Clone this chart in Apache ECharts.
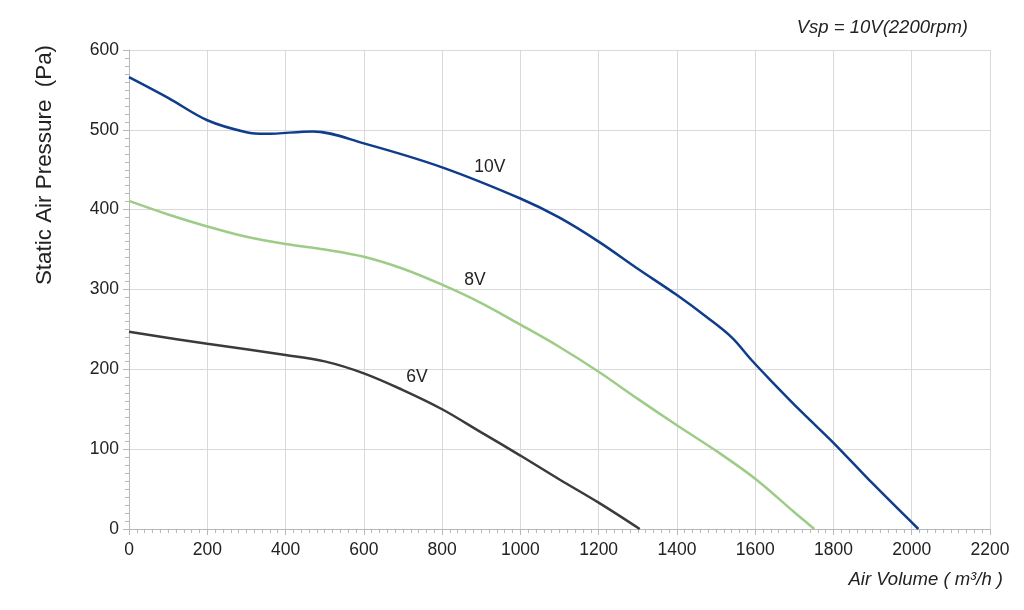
<!DOCTYPE html>
<html>
<head>
<meta charset="utf-8">
<title>Fan curve</title>
<script src="https://cdn.jsdelivr.net/npm/echarts@6/dist/echarts.min.js"></script>
<style>
  html, body { margin: 0; padding: 0; background: #fff; }
  #chart { width: 1024px; height: 610px; }
</style>
</head>
<body>
<div id="chart"></div>
<script>
// air volume (m3/h), static pressure (Pa)
const curve10V = [
  [0, 566], [100, 540], [200, 512], [300, 497], [350, 495], [470, 498],
  [600, 483], [800, 453], [1000, 414], [1100, 390], [1200, 360],
  [1300, 326], [1400, 293], [1480, 264], [1540, 240], [1590, 212],
  [1640, 186], [1720, 146], [1800, 108], [1900, 57], [2017, 0]
];
const curve8V = [
  [0, 411], [100, 394], [200, 379], [300, 366], [400, 357], [500, 350],
  [600, 341], [700, 326], [800, 306], [900, 283], [1000, 256], [1100, 228],
  [1200, 197], [1300, 163], [1400, 130], [1500, 98], [1600, 63],
  [1700, 21], [1751, 0]
];
const curve6V = [
  [0, 247], [200, 232], [400, 218], [500, 210], [600, 195], [700, 174],
  [800, 150], [900, 121], [1000, 92], [1100, 62], [1200, 33], [1305, 0]
];
const curveNames = ['10V', '8V', '6V'];
const curveColors = ['#0f3d8c', '#9dcc87', '#3b3b3b'];
// where the curve names sit, in data units
const labelAt = [[922, 453], [884, 312], [736, 190]];

const chart = echarts.init(document.getElementById('chart'));

const makeSeries = (data, i) => ({
  name: curveNames[i],
  type: 'line',
  data: data,
  smooth: 0.35,
  symbol: 'none',
  lineStyle: { color: curveColors[i], width: 2.5 },
  markPoint: {
    symbol: 'circle',
    symbolSize: 0,
    data: [{ coord: labelAt[i] }],
    label: {
      show: true,
      formatter: curveNames[i],
      color: '#222',
      fontSize: 17.5,
      fontFamily: 'Liberation Sans'
    }
  }
});

const axisCommon = {
  axisLine: { show: true, lineStyle: { color: '#b8b8b8', width: 1 } },
  axisTick: { show: true, length: 6, lineStyle: { color: '#b8b8b8' } },
  minorTick: { show: true, splitNumber: 10, length: 4, lineStyle: { color: '#b8b8b8' } },
  splitLine: { show: true, lineStyle: { color: '#d9d9d9', width: 1 } },
  axisLabel: {
    color: '#222',
    fontSize: 17.5,
    fontFamily: 'Liberation Sans',
    formatter: (v) => String(v)
  }
};

chart.setOption({
  animation: false,
  backgroundColor: '#fff',
  grid: { left: 129, right: 34, top: 50, bottom: 81 },
  xAxis: Object.assign({}, axisCommon, {
    type: 'value',
    min: 0,
    max: 2200,
    interval: 200,
    axisLabel: Object.assign({}, axisCommon.axisLabel, { margin: 12 })
  }),
  yAxis: Object.assign({}, axisCommon, {
    type: 'value',
    min: 0,
    max: 600,
    interval: 100,
    axisLabel: Object.assign({}, axisCommon.axisLabel, { margin: 10 })
  }),
  series: [curve10V, curve8V, curve6V].map(makeSeries),
  graphic: [
    {
      type: 'text',
      x: 45,
      y: 165,
      rotation: Math.PI / 2,
      style: {
        text: 'Static Air Pressure  (Pa)',
        fill: '#222',
        fontSize: 22.4,
        fontFamily: 'Liberation Sans',
        align: 'center',
        verticalAlign: 'middle'
      }
    },
    {
      type: 'text',
      right: 21,
      top: 570,
      style: {
        text: 'Air Volume ( m³/h )',
        fill: '#222',
        fontSize: 18.5,
        fontStyle: 'italic',
        fontFamily: 'Liberation Sans'
      }
    },
    {
      type: 'text',
      right: 56,
      top: 18,
      style: {
        text: 'Vsp = 10V(2200rpm)',
        fill: '#222',
        fontSize: 18.5,
        fontStyle: 'italic',
        fontFamily: 'Liberation Sans'
      }
    }
  ]
});
</script>
</body>
</html>
